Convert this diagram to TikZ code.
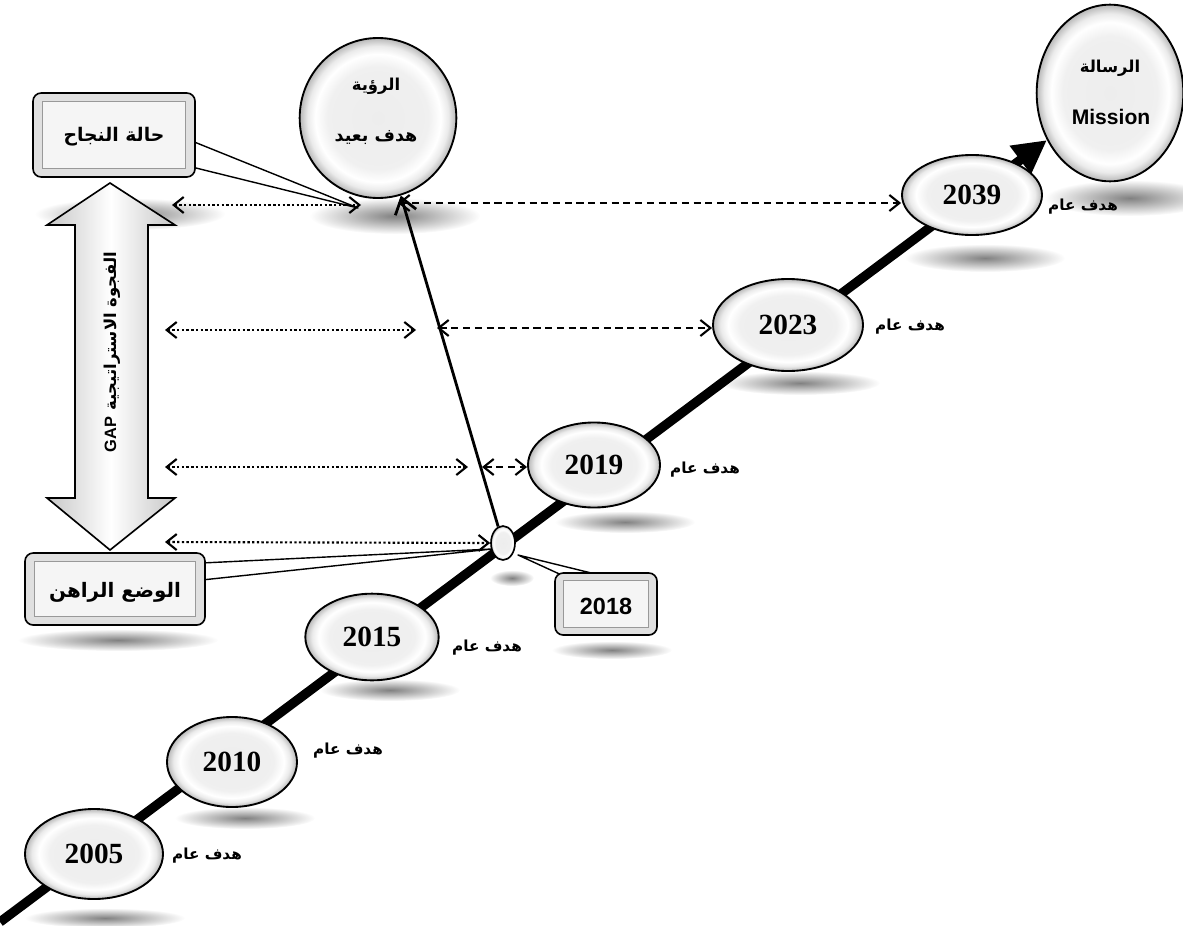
\documentclass[tikz,border=0pt]{standalone}
\usepackage{fontspec}
\usetikzlibrary{arrows.meta,shapes.geometric,fadings,calc}
\TeXXeTstate=1
\newfontfamily\arabicfont[Script=Arabic]{DejaVu Sans}
\newfontfamily\yearfont{Liberation Serif}
\newfontfamily\latinsans{Liberation Sans}
\newcommand\artext[1]{{\arabicfont\bfseries\beginR #1\endR}}

\pgfdeclarelayer{shadow}
\pgfdeclarelayer{back}
\pgfsetlayers{shadow,back,main}

% soft grey blob used for cast shadows
\tikzfading[name=softblob, inner color=transparent!10, outer color=transparent!100]
% bevelled face of the ellipses
\pgfdeclareradialshading{bevel}{\pgfpoint{0bp}{0bp}}{%
  color(0bp)=(black!7); color(16bp)=(black!6); color(20bp)=(white);
  color(22.5bp)=(black!8); color(25bp)=(black!28)}

\tikzset{
  yearell/.style={ellipse, draw=black, line width=1.6pt, shading=bevel,
    font=\yearfont\bfseries\fontsize{25}{28}\selectfont, inner sep=0pt},
  bigell/.style={ellipse, draw=black, line width=1.6pt, shading=bevel,
    align=center, inner sep=0pt},
  goal/.style={font=\fontsize{13}{15}\selectfont, inner sep=1pt},
  bevelbox/.style={draw=black, line width=1.4pt, rounded corners=7pt,
    fill=black!12, inner sep=0pt},
  innerface/.style={draw=black!40, line width=0.6pt, fill=black!4},
  tail/.style={draw=black, line width=1.2pt, fill=white, line join=round},
  timeline/.style={line width=8pt, -{Triangle[length=10mm,width=10mm]}},
  uparrow/.style={line width=2.4pt, -{Straight Barb[length=4.5mm,width=6.5mm]}},
  dotarrow/.style={line width=1.8pt, dash pattern=on 2pt off 2pt,
    {Straight Barb[length=3mm,width=4.8mm]}-{Straight Barb[length=3mm,width=4.8mm]}},
  dasharrow/.style={line width=1.8pt, dash pattern=on 6pt off 4pt,
    {Straight Barb[length=3mm,width=4.8mm]}-{Straight Barb[length=3mm,width=4.8mm]}},
  gapshape/.style={draw=black, line width=1.4pt, line join=miter,
    left color=black!22, right color=black!22, middle color=white},
}
\newcommand\softshadow[4]{%
  \fill[black!55, path fading=softblob] (#1,#2) ellipse [x radius=#3, y radius=#4];}

\begin{document}
\begin{tikzpicture}[x=0.03cm, y=-0.03cm]
\useasboundingbox (0,0) rectangle (1183,925);

% ---- cast shadows
\begin{pgfonlayer}{shadow}
  \softshadow{130}{214}{95}{16}
  \softshadow{395}{216}{85}{18}
  \softshadow{985}{258}{80}{14}
  \softshadow{1130}{198}{85}{18}
  \softshadow{800}{383}{80}{12}
  \softshadow{625}{522}{70}{11}
  \softshadow{512}{578}{22}{8}
  \softshadow{612}{650}{60}{9}
  \softshadow{390}{690}{70}{11}
  \softshadow{245}{818}{70}{11}
  \softshadow{105}{918}{80}{10}
  \softshadow{118}{640}{100}{11}
\end{pgfonlayer}

% ---- milestones on the time line
\node[yearell, minimum width=4.14cm, minimum height=2.7cm] (e2005) at (94,854) {2005};
\node[yearell, minimum width=3.9cm, minimum height=2.7cm] (e2010) at (232,762) {2010};
\node[yearell, minimum width=4.0cm, minimum height=2.6cm] (e2015) at (372,637) {2015};
\node[ellipse, draw=black, line width=1.4pt, shading=bevel,
      minimum width=0.72cm, minimum height=1.02cm, inner sep=0pt] (e2018) at (503,543) {};
\node[yearell, minimum width=3.96cm, minimum height=2.55cm] (e2019) at (594,465) {2019};
\node[yearell, minimum width=4.5cm, minimum height=2.76cm] (e2023) at (788,325) {2023};
\node[yearell, minimum width=4.2cm, minimum height=2.4cm] (e2039) at (972,195) {2039};

\node[bigell, minimum width=4.4cm, minimum height=5.3cm] (mission) at (1110,93) {};
\node[font=\fontsize{14}{16}\selectfont] (missionar) at (1110,68) {\artext{الرسالة}};
\node[font=\latinsans\bfseries\fontsize{18}{20}\selectfont] (missionen) at (1111,117) {Mission};

\node[bigell, minimum width=4.7cm, minimum height=4.8cm] (vision) at (378,118) {};
\node[font=\fontsize{14}{16}\selectfont] (visionar) at (376,86) {\artext{الرؤية}};
\node[font=\fontsize{15}{17}\selectfont] (visiongoal) at (376,138) {\artext{هدف بعيد}};

% ---- goal labels
\node[goal] (g2005) at (207,856) {\artext{هدف عام}};
\node[goal] (g2010) at (348,751) {\artext{هدف عام}};
\node[goal] (g2015) at (487,648) {\artext{هدف عام}};
\node[goal] (g2019) at (705,470) {\artext{هدف عام}};
\node[goal] (g2023) at (910,327) {\artext{هدف عام}};
\node[goal] (g2039) at (1083,207) {\artext{هدف عام}};

% ---- state boxes
\node[bevelbox, minimum width=4.86cm, minimum height=2.52cm] (success) at (114,135) {};
\draw[innerface] ([shift={(9pt,-8pt)}]success.north west) rectangle ([shift={(-9pt,8pt)}]success.south east);
\node[font=\fontsize{16}{18}\selectfont] (successtxt) at (114,137) {\artext{حالة النجاح}};

\node[bevelbox, minimum width=5.4cm, minimum height=2.16cm] (current) at (115,589) {};
\draw[innerface] ([shift={(9pt,-8pt)}]current.north west) rectangle ([shift={(-9pt,8pt)}]current.south east);
\node[font=\fontsize{17}{19}\selectfont] (currenttxt) at (115,592) {\artext{الوضع الراهن}};

\node[bevelbox, minimum width=3.06cm, minimum height=1.86cm] (box2018) at (606,604) {};
\draw[innerface] ([shift={(8pt,-7pt)}]box2018.north west) rectangle ([shift={(-8pt,7pt)}]box2018.south east);
\node[font=\latinsans\bfseries\fontsize{20}{22}\selectfont] (txt2018) at (606,606) {2018};

% ---- time line and callout pointers
\coordinate (lstart) at (0,922);
\coordinate (succtip) at (358,208);
\coordinate (currtip) at (492,549);
\coordinate (tip2018) at (518,555);
\begin{pgfonlayer}{back}
  \draw[timeline] (lstart) -- (mission);
  \draw[tail] ($(success.east)+(-4,6)$) -- (succtip) -- ($(success.east)+(-4,32)$);
  \draw[tail] ($(current.east)+(-4,-26)$) -- (currtip) -- ($(current.east)+(-4,-9)$);
  \draw[tail] ($(box2018.north west)+(10,4)$) -- (tip2018) -- ($(box2018.north west)+(50,4)$);
\end{pgfonlayer}

% ---- strategic gap arrow
\path[gapshape] (110,183) coordinate (gaptop) -- (175,225) -- (148,225) -- (148,498) -- (175,498)
  -- (110,550) coordinate (gapbottom) -- (47,498) -- (75,498) -- (75,225) -- (47,225) -- cycle;
\node[rotate=90, font=\fontsize{14}{16}\selectfont] (gaptxt) at (112,352)
  {\artext{الفجوة الاستراتيجية \beginL{\latinsans\bfseries GAP}\endL}};

% ---- vision arrow from today
\draw[uparrow] (e2018) -- (vision);

% ---- comparison arrows
\coordinate (d1l) at (172,205);  \coordinate (d1r) at (361,205);
\coordinate (d2l) at (165,330);  \coordinate (d2r) at (416,330);
\coordinate (d3l) at (165,467);  \coordinate (d3r) at (468,467);
\coordinate (d4l) at (165,542);
\draw[dotarrow] (d1l) -- (d1r);
\draw[dotarrow] (d2l) -- (d2r);
\draw[dotarrow] (d3l) -- (d3r);
\draw[dotarrow] (d4l) -- (e2018.west);

\coordinate (h1l) at (398,203);
\coordinate (h2l) at (437,328);
\coordinate (h3l) at (482,467);
\draw[dasharrow] (h1l) -- (h1l -| e2039.west);
\draw[dasharrow] (h2l) -- (h2l -| e2023.west);
\draw[dasharrow] (h3l) -- (h3l -| e2019.west);
\end{tikzpicture}
\end{document}
